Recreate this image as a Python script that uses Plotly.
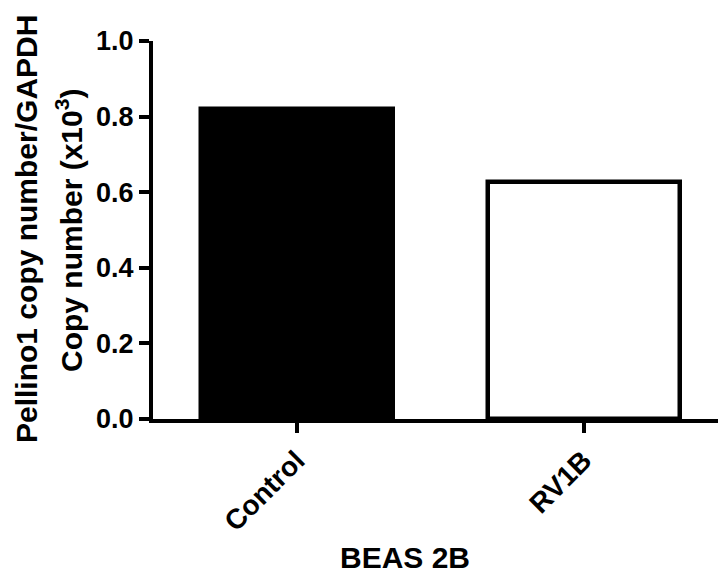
import plotly.graph_objects as go

categories = ["Control", "RV1B"]
values = [0.82, 0.626]
fill_colors = ["#000000", "#ffffff"]
y_ticks = [0.0, 0.2, 0.4, 0.6, 0.8, 1.0]

FONT = "Arial, Liberation Sans, sans-serif"

fig = go.Figure()
fig.add_trace(go.Bar(
    x=categories,
    y=values,
    width=0.669,
    marker=dict(color=fill_colors, line=dict(color="#000000", width=4.5)),
    showlegend=False,
))

W, H = 718, 574
L, R, T, B = 153, 0, 41, 155
pw = W - L - R
ph = H - T - B
spacing = 287.0

fig.update_layout(
    width=W, height=H,
    margin=dict(l=L, r=R, t=T, b=B, pad=0),
    paper_bgcolor="white", plot_bgcolor="white",
    font=dict(family=FONT, color="black", weight="bold"),
    bargap=0,
)
fig.update_xaxes(
    type="category",
    range=[-0.5, -0.5 + pw / spacing],
    showline=True, linecolor="black", linewidth=4,
    ticks="outside", ticklen=10, tickwidth=4, tickcolor="black",
    tickangle=-45,
    tickfont=dict(family=FONT, size=28, color="black", weight="bold"),
    showgrid=False, zeroline=False,
)
fig.update_yaxes(
    range=[0, 1.0],
    tickvals=y_ticks,
    tickformat=".1f",
    showline=True, linecolor="black", linewidth=4,
    ticks="outside", ticklen=10, tickwidth=4, tickcolor="black",
    tickfont=dict(family=FONT, size=27, color="black", weight="bold"),
    showgrid=False, zeroline=False,
)

def px_x(px):
    return (px - L) / pw

def px_y(py):
    return (H - B - py) / ph

fig.add_annotation(
    text="Pellino1 copy number/GAPDH",
    xref="paper", yref="paper", x=px_x(26), y=px_y(229),
    xanchor="center", yanchor="middle", textangle=-90, showarrow=False,
    font=dict(family=FONT, size=30, color="black", weight="bold"),
)
fig.add_annotation(
    text="Copy number (x10<sup>3</sup>)",
    xref="paper", yref="paper", x=px_x(69), y=px_y(231),
    xanchor="center", yanchor="middle", textangle=-90, showarrow=False,
    font=dict(family=FONT, size=30, color="black", weight="bold"),
)
fig.add_annotation(
    text="BEAS 2B",
    xref="paper", yref="paper", x=px_x(405), y=px_y(557),
    xanchor="center", yanchor="middle", showarrow=False,
    font=dict(family=FONT, size=30, color="black", weight="bold"),
)

fig.write_html(
    "out.html",
    config={"displayModeBar": False},
    post_script="document.body.style.margin='0px';",
)
